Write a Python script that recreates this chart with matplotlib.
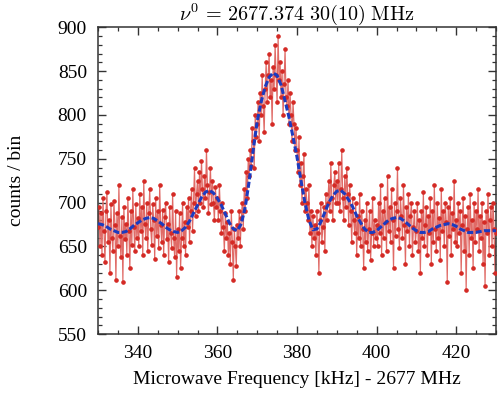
import numpy as np
import matplotlib.pyplot as plt
from matplotlib.ticker import MultipleLocator

plt.rcParams["font.family"] = ["Liberation Serif", "DejaVu Serif"]
plt.rcParams["mathtext.fontset"] = "cm"

# measured counts, 0.25 kHz steps from 330 to 430 kHz (offset 2677 MHz)
counts_330 = [672, 695, 650, 688, 640, 705, 668, 632, 690, 712, 655, 680, 620, 698, 660, 645, 702, 675, 612, 688,
              650, 720, 662, 638, 684, 610, 695, 658, 676, 640, 705, 668, 625, 690, 652, 715, 672, 645, 698, 660]
counts_340 = [682, 650, 710, 668, 695, 640, 725, 676, 660, 700, 645, 688, 715, 670, 652, 698, 680, 636, 705, 662,
              690, 648, 720, 674, 655, 692, 640, 684, 700, 658, 676, 632, 695, 665, 648, 710, 660, 638, 690, 615]
counts_350 = [670, 645, 688, 625, 660, 700, 650, 678, 640, 695, 672, 705, 655, 690, 715, 668, 700, 740, 685, 710,
              725, 690, 735, 700, 748, 715, 695, 730, 705, 760, 720, 688, 712, 740, 698, 725, 700, 680, 718, 695]
counts_360 = [705, 680, 720, 690, 665, 700, 672, 645, 688, 660, 678, 640, 665, 630, 690, 655, 612, 670, 650, 628,
              675, 660, 690, 650, 682, 700, 670, 715, 690, 735, 705, 750, 730, 760, 742, 785, 770, 740, 800, 775]
counts_370 = [790, 815, 770, 825, 800, 845, 810, 780, 830, 860, 815, 845, 870, 820, 840, 790, 855, 830, 880, 845,
              815, 890, 840, 860, 820, 850, 800, 835, 875, 820, 810, 840, 790, 825, 800, 770, 815, 790, 760, 785]
counts_380 = [760, 735, 775, 720, 745, 700, 730, 755, 690, 715, 700, 680, 720, 665, 690, 650, 685, 660, 675, 640,
              690, 665, 620, 680, 700, 655, 672, 695, 645, 710, 680, 700, 725, 690, 745, 705, 680, 720, 735, 700]
counts_390 = [725, 700, 745, 690, 715, 760, 705, 680, 730, 695, 740, 710, 675, 720, 690, 655, 705, 680, 665, 700,
              640, 685, 660, 710, 650, 690, 670, 625, 680, 655, 700, 645, 670, 690, 635, 665, 705, 650, 680, 660]
counts_400 = [675, 650, 700, 665, 720, 640, 690, 660, 705, 678, 645, 730, 668, 695, 655, 715, 680, 625, 700, 662,
              690, 740, 670, 648, 705, 685, 660, 720, 675, 630, 695, 668, 710, 650, 685, 700, 640, 672, 690, 655]
counts_410 = [668, 700, 645, 680, 620, 690, 660, 712, 650, 675, 695, 640, 685, 665, 705, 630, 690, 655, 720, 670,
              645, 700, 660, 682, 635, 715, 668, 690, 650, 700, 678, 610, 695, 662, 705, 640, 688, 670, 725, 655]
counts_420 = [680, 650, 700, 665, 690, 620, 675, 705, 645, 685, 600, 670, 695, 640, 710, 660, 680, 625, 700, 655,
              690, 670, 715, 645, 685, 660, 700, 630, 678, 605, 690, 665, 710, 640, 680, 695, 650, 700, 670, 620, 665]

counts = (counts_330 + counts_340 + counts_350 + counts_360 + counts_370
          + counts_380 + counts_390 + counts_400 + counts_410 + counts_420)
freq = np.linspace(330, 430, len(counts))

# fitted line shape, read at 1 kHz
fit_freq = list(range(330, 431))
fit_counts = [676, 675, 673, 670, 668, 666, 666, 667, 670, 674,
              677, 680, 682, 683, 682, 679, 676, 672, 669, 667,
              666, 668, 672, 679, 688, 697, 706, 712, 714, 711,
              705, 697, 687, 677, 670, 668, 676, 695, 725, 760,
              793, 815, 832, 843, 848, 845, 834, 816, 797, 775,
              752, 725, 700, 680, 669, 670, 678, 689, 700, 708,
              713, 714, 710, 703, 695, 685, 677, 670, 666, 666,
              668, 672, 676, 680, 682, 683, 682, 679, 675, 671,
              668, 666, 666, 667, 670, 672, 674, 675, 676, 675,
              673, 670, 668, 666, 666, 666, 667, 668, 668, 668, 668]

fig = plt.figure(figsize=(5.0, 3.95), dpi=100)
ax = fig.add_axes([0.196, 0.154, 0.796, 0.777])

ax.plot(freq, counts, color="#e06a66", lw=0.85, zorder=2)
ax.plot(freq, counts, ls="none", marker="o", ms=2.3, color="#d42a25", zorder=3)
ax.plot(fit_freq, fit_counts, color="#1c3bbf", lw=2.2, ls=(0, (2.0, 0.8)), zorder=4)

ax.set_xlim(330, 430)
ax.set_ylim(550, 900)
ax.xaxis.set_major_locator(MultipleLocator(20))
ax.xaxis.set_minor_locator(MultipleLocator(5))
ax.yaxis.set_major_locator(MultipleLocator(50))
ax.yaxis.set_minor_locator(MultipleLocator(10))
ax.tick_params(which="both", direction="in", top=True, right=True, labelsize=14, color="#333333")
ax.tick_params(which="major", length=6, width=1.0, pad=8)
ax.tick_params(which="minor", length=3, width=0.9)
for s in ax.spines.values():
    s.set_linewidth(1.1)
    s.set_color("#333333")

ax.set_xlabel("Microwave Frequency [kHz] - 2677 MHz", fontsize=14, labelpad=6)
ax.set_ylabel("counts / bin", fontsize=14)
ax.yaxis.set_label_coords(-0.183, 0.5)
ax.set_title(r"$\nu^0\,=\,2677.374\ 30(10)\ \mathrm{MHz}$", fontsize=14.5, pad=5)

fig.savefig("out.png", dpi=100)
